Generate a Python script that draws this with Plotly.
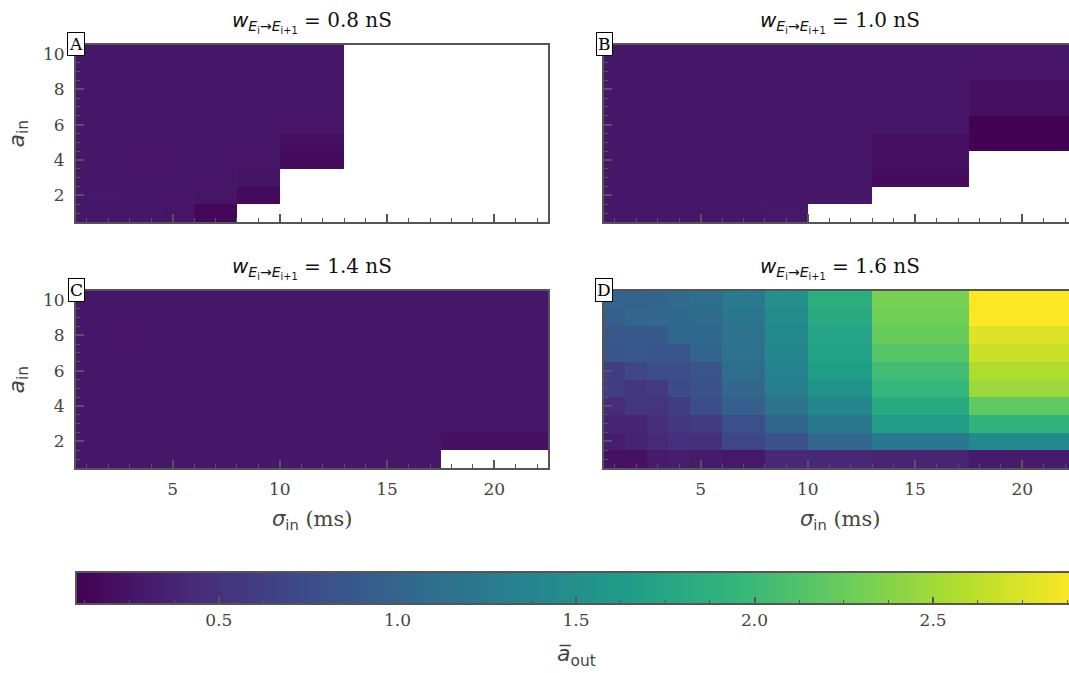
import plotly.graph_objects as go

# ---------------- data ----------------
sigma_in = [1, 2, 3, 4, 5, 7, 9, 11, 15, 20]          # ms (cell centres)
a_in = [1, 2, 3, 4, 5, 6, 7, 8, 9, 10]
N = None

weights = ["0.8", "1.0", "1.4", "1.6"]
panel_letters = ["A", "B", "C", "D"]

# rows: a_in = 1..10, columns: sigma_in
a_out_w08 = [
    [0.27, 0.27, 0.27, 0.27, 0.26, 0.15, N, N, N, N],
    [0.28, 0.28, 0.27, 0.27, 0.27, 0.26, 0.17, N, N, N],
    [0.27, 0.27, 0.27, 0.27, 0.27, 0.27, 0.25, N, N, N],
    [0.27, 0.27, 0.27, 0.26, 0.27, 0.27, 0.26, 0.19, N, N],
    [0.27, 0.27, 0.27, 0.27, 0.27, 0.27, 0.27, 0.20, N, N],
    [0.27, 0.27, 0.27, 0.27, 0.27, 0.27, 0.27, 0.26, N, N],
    [0.27, 0.27, 0.27, 0.27, 0.27, 0.27, 0.27, 0.27, N, N],
    [0.27, 0.27, 0.27, 0.27, 0.27, 0.27, 0.27, 0.27, N, N],
    [0.27, 0.27, 0.27, 0.27, 0.27, 0.27, 0.27, 0.27, N, N],
    [0.27, 0.27, 0.27, 0.27, 0.27, 0.27, 0.27, 0.27, N, N],
]

a_out_w10 = [
    [0.27, 0.27, 0.27, 0.27, 0.27, 0.27, 0.28, N, N, N],
    [0.27, 0.27, 0.27, 0.27, 0.27, 0.27, 0.27, 0.27, N, N],
    [0.27, 0.27, 0.27, 0.27, 0.27, 0.27, 0.27, 0.27, 0.18, N],
    [0.27, 0.27, 0.27, 0.27, 0.27, 0.27, 0.27, 0.27, 0.22, N],
    [0.27, 0.27, 0.27, 0.27, 0.27, 0.27, 0.27, 0.27, 0.22, 0.11],
    [0.27, 0.27, 0.27, 0.27, 0.27, 0.27, 0.27, 0.27, 0.27, 0.11],
    [0.27, 0.27, 0.27, 0.27, 0.27, 0.27, 0.27, 0.27, 0.27, 0.22],
    [0.27, 0.27, 0.27, 0.27, 0.27, 0.27, 0.27, 0.27, 0.27, 0.22],
    [0.27, 0.27, 0.27, 0.27, 0.27, 0.27, 0.27, 0.27, 0.27, 0.26],
    [0.27, 0.27, 0.27, 0.27, 0.27, 0.27, 0.27, 0.27, 0.27, 0.27],
]

a_out_w14 = [
    [0.27, 0.27, 0.27, 0.27, 0.27, 0.27, 0.27, 0.27, 0.27, N],
    [0.27, 0.27, 0.27, 0.27, 0.27, 0.27, 0.27, 0.27, 0.27, 0.22],
    [0.27, 0.27, 0.27, 0.27, 0.27, 0.27, 0.27, 0.27, 0.27, 0.27],
    [0.27, 0.27, 0.27, 0.27, 0.27, 0.27, 0.27, 0.27, 0.27, 0.27],
    [0.27, 0.27, 0.27, 0.27, 0.27, 0.27, 0.27, 0.27, 0.27, 0.27],
    [0.27, 0.27, 0.27, 0.27, 0.27, 0.27, 0.27, 0.27, 0.27, 0.27],
    [0.27, 0.27, 0.27, 0.27, 0.27, 0.27, 0.27, 0.27, 0.27, 0.27],
    [0.27, 0.27, 0.26, 0.27, 0.27, 0.27, 0.27, 0.27, 0.27, 0.27],
    [0.27, 0.27, 0.27, 0.27, 0.27, 0.27, 0.27, 0.27, 0.27, 0.27],
    [0.27, 0.27, 0.27, 0.27, 0.27, 0.27, 0.27, 0.27, 0.27, 0.27],
]

a_out_w16 = [
    [0.23, 0.23, 0.30, 0.32, 0.31, 0.28, 0.40, 0.40, 0.38, 0.30],
    [0.32, 0.37, 0.42, 0.48, 0.49, 0.69, 0.80, 1.02, 1.22, 1.42],
    [0.38, 0.38, 0.45, 0.55, 0.58, 0.79, 1.00, 1.22, 1.63, 1.92],
    [0.45, 0.55, 0.52, 0.60, 0.77, 0.94, 1.16, 1.39, 1.81, 2.20],
    [0.63, 0.55, 0.58, 0.74, 0.80, 1.02, 1.28, 1.53, 1.95, 2.48],
    [0.62, 0.70, 0.77, 0.77, 0.83, 1.09, 1.36, 1.67, 2.03, 2.56],
    [0.84, 0.86, 0.84, 0.83, 1.00, 1.14, 1.40, 1.71, 2.14, 2.68],
    [0.86, 0.87, 0.88, 1.04, 1.04, 1.15, 1.42, 1.72, 2.24, 2.76],
    [0.94, 1.01, 1.02, 1.05, 1.07, 1.19, 1.44, 1.79, 2.28, 2.90],
    [1.00, 0.98, 1.00, 1.07, 1.12, 1.25, 1.50, 1.86, 2.31, 2.90],
]

panels = [a_out_w08, a_out_w10, a_out_w14, a_out_w16]

x_major = [5, 10, 15, 20]
y_major = [2, 4, 6, 8, 10]
cbar_ticks = [0.5, 1.0, 1.5, 2.0, 2.5]
cbar_ticktext = ["0.5", "1.0", "1.5", "2.0", "2.5"]
CMIN, CMAX = 0.1, 2.9

# ---------------- layout geometry (pixels) ----------------
W, H = 1069, 673
PX = lambda p: p / W
PY = lambda p: 1 - p / H

left_cols = [(76, 548), (604, 1076)]        # full panel extents (right one is cut by the image edge)
rows_px = [(45, 222), (291, 468)]
XMIN, XMAX = 0.5, 22.5
px_per_unit = (left_cols[0][1] - left_cols[0][0]) / (XMAX - XMIN)

SERIF = "DejaVu Serif, Liberation Serif, Noto Serif, serif"
SANS = "DejaVu Sans, sans-serif"
AX = "#555555"
TXT = "#444444"

fig = go.Figure()

for i, z in enumerate(panels):
    r, c = divmod(i, 2)
    n = i + 1
    sfx = str(n) if n > 1 else ""
    fig.add_trace(go.Heatmap(
        x=sigma_in, y=a_in, z=z, coloraxis="coloraxis",
        xaxis="x" + sfx, yaxis="y" + sfx,
        hoverongaps=False,
    ))

    x0, x1 = left_cols[c]
    y0, y1 = rows_px[r]
    vis_x1 = min(x1, W)
    xr = [XMIN, XMIN + (vis_x1 - x0) / px_per_unit]

    xa = dict(
        domain=[PX(x0), PX(vis_x1)], range=xr, anchor="y" + sfx,
        showline=True, linecolor=AX, linewidth=2, mirror=True,
        ticks="inside", ticklen=8, tickwidth=1.6, tickcolor=AX,
        tickmode="array", tickvals=x_major,
        minor=dict(ticks="inside", ticklen=4, tickwidth=1, tickcolor=AX, dtick=1, tick0=0, showgrid=False),
        showgrid=False, zeroline=False,
        showticklabels=(r == 1),
        tickfont=dict(family=SERIF, size=17, color=TXT),
        ticklabelstandoff=5,
    )
    ya = dict(
        domain=[PY(y1), PY(y0)], range=[0.5, 10.5], anchor="x" + sfx,
        showline=True, linecolor=AX, linewidth=2, mirror=(c == 0),
        ticks="inside", ticklen=8, tickwidth=1.6, tickcolor=AX,
        tickmode="array", tickvals=y_major,
        minor=dict(ticks="inside", ticklen=4, tickwidth=1, tickcolor=AX, dtick=0.5, tick0=0, showgrid=False),
        showgrid=False, zeroline=False,
        showticklabels=(c == 0),
        tickfont=dict(family=SERIF, size=17, color=TXT),
        ticklabelstandoff=6,
    )
    fig.layout["xaxis" + sfx] = xa
    fig.layout["yaxis" + sfx] = ya

    # panel title
    title = (f'<span style="font-family:DejaVu Sans"><i>w</i><sub><i>E</i><sub>i</sub>→<i>E</i>'
             f'<sub>i+1</sub></sub> = </span>{weights[i]} nS')
    fig.add_annotation(x=PX((x0 + x1) / 2), y=PY(y0 - 7), xref="paper", yref="paper",
                       text=title, showarrow=False, xanchor="center", yanchor="bottom",
                       font=dict(family=SERIF, size=20, color="#111111"))
    # panel letter
    fig.add_annotation(x=PX(x0), y=PY(y0 - 1), xref="paper", yref="paper",
                       text=panel_letters[i], showarrow=False, xanchor="center", yanchor="middle",
                       font=dict(family=SERIF, size=17, color="#000000"),
                       bgcolor="white", bordercolor="#000000", borderwidth=1, borderpad=1)
    # axis titles
    if r == 1:
        fig.add_annotation(x=PX((x0 + x1) / 2), y=PY(520), xref="paper", yref="paper",
                           text='<span style="font-family:DejaVu Sans"><i>σ</i><sub>in</sub></span> (ms)',
                           showarrow=False, xanchor="center", yanchor="middle",
                           font=dict(family=SERIF, size=21, color=TXT))
    if c == 0:
        fig.add_annotation(x=PX(18), y=PY((y0 + y1) / 2), xref="paper", yref="paper",
                           text="<i>a</i><sub>in</sub>", textangle=-90,
                           showarrow=False, xanchor="center", yanchor="middle",
                           font=dict(family=SANS, size=22, color=TXT))

# minor-tick helper colorbar (transparent) driven by an empty trace
fig.add_trace(go.Scatter(x=[None], y=[None], mode="markers", showlegend=False,
                         marker=dict(color=[CMIN], coloraxis="coloraxis2"),
                         xaxis="x4", yaxis="y4", hoverinfo="skip"))

cb_common = dict(orientation="h", x=PX(76), xanchor="left", y=PY(572), yanchor="top",
                 len=1000, lenmode="pixels", thickness=32, thicknessmode="pixels",
                 xpad=0, ypad=0)

fig.update_layout(
    width=W, height=H,
    margin=dict(l=0, r=0, t=0, b=0, autoexpand=False),
    paper_bgcolor="white", plot_bgcolor="white",
    showlegend=False,
    coloraxis=dict(
        colorscale="Viridis", cmin=CMIN, cmax=CMAX,
        colorbar=dict(**cb_common, outlinewidth=2, outlinecolor=AX,
                      ticks="inside", ticklen=8, tickwidth=1.6, tickcolor=AX,
                      tickmode="array", tickvals=cbar_ticks, ticktext=cbar_ticktext,
                      tickfont=dict(family=SERIF, size=17, color=TXT)),
    ),
    coloraxis2=dict(
        colorscale=[[0, "rgba(0,0,0,0)"], [1, "rgba(0,0,0,0)"]], cmin=CMIN, cmax=CMAX,
        colorbar=dict(**cb_common, outlinewidth=0,
                      ticks="inside", ticklen=4, tickwidth=1, tickcolor=AX,
                      tickmode="linear", tick0=0, dtick=0.125, showticklabels=False),
    ),
)

fig.add_annotation(x=PX(576), y=PY(655), xref="paper", yref="paper",
                   text="<i>a̅</i><sub>out</sub>", showarrow=False,
                   xanchor="center", yanchor="middle",
                   font=dict(family=SANS, size=22, color=TXT))

fig.write_html("out.html")
